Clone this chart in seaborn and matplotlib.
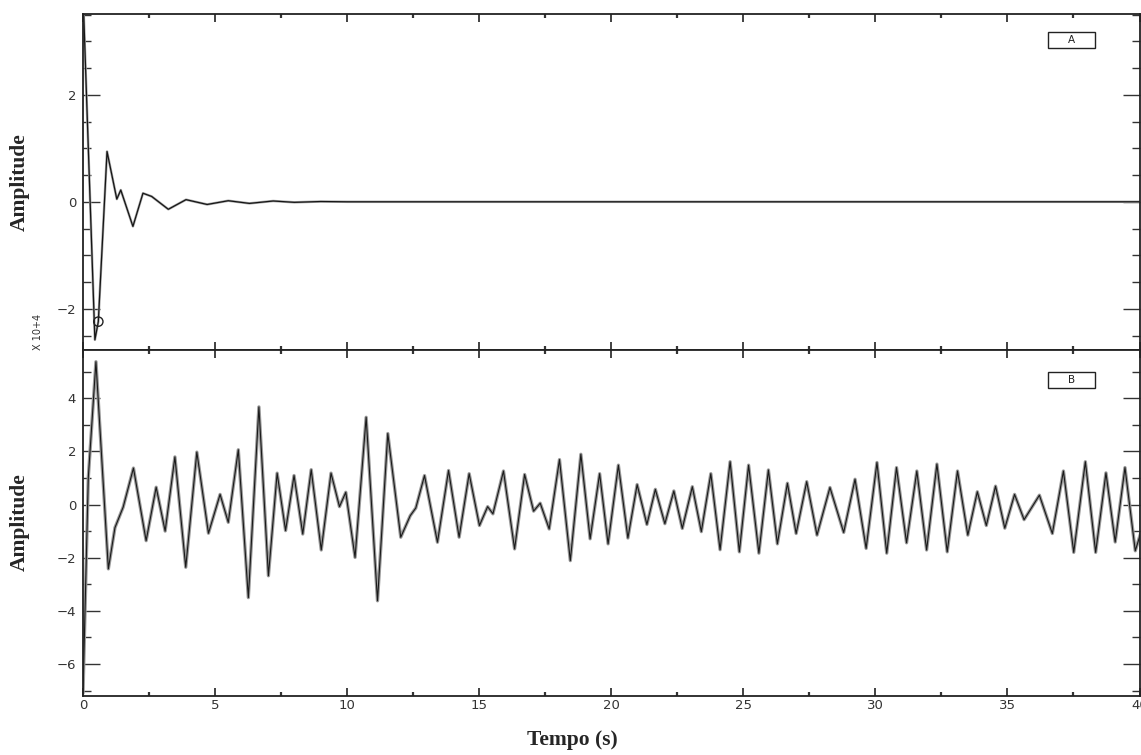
import matplotlib
matplotlib.use("Agg")
import matplotlib.pyplot as plt
import seaborn as sns
from matplotlib.patches import Rectangle
from matplotlib.ticker import MultipleLocator

# ---- Panel A: impulse response (amplitude in units of 1e4) ----
t_a = [0.00, 0.45, 0.58, 0.91, 1.28, 1.43, 1.89, 2.27, 2.60, 3.23, 3.90,
       4.70, 5.50, 6.30, 7.20, 8.00, 9.00, 10.00, 40.00]
amp_a = [3.90, -2.58, -2.24, 0.94, 0.05, 0.22, -0.46, 0.16, 0.10, -0.14, 0.04,
         -0.05, 0.02, -0.03, 0.015, -0.01, 0.005, 0.0, 0.0]
mark_t = [0.58]
mark_amp = [-2.24]

# ---- Panel B: recorded response ----
t_b = [0.00, 0.20, 0.49, 0.96, 1.21, 1.52, 1.91, 2.39, 2.77, 3.11, 3.48, 3.89,
       4.31, 4.75, 5.19, 5.50, 5.88, 6.26, 6.66, 7.02, 7.35, 7.67, 7.99, 8.32,
       8.64, 9.02, 9.39, 9.71, 9.95, 10.30, 10.72, 11.15, 11.54, 12.03, 12.39,
       12.60, 12.93, 13.42, 13.84, 14.24, 14.62, 15.01, 15.32, 15.52, 15.92,
       16.34, 16.72, 17.06, 17.31, 17.65, 18.04, 18.45, 18.85, 19.20, 19.56,
       19.88, 20.27, 20.63, 20.98, 21.35, 21.67, 22.03, 22.37, 22.69, 23.07,
       23.41, 23.77, 24.12, 24.50, 24.85, 25.20, 25.59, 25.95, 26.29, 26.67,
       27.00, 27.40, 27.79, 28.28, 28.80, 29.23, 29.65, 30.06, 30.43, 30.80,
       31.18, 31.57, 31.94, 32.33, 32.72, 33.11, 33.50, 33.86, 34.20, 34.55,
       34.90, 35.27, 35.63, 36.21, 36.70, 37.12, 37.51, 37.95, 38.34, 38.73,
       39.08, 39.45, 39.84, 40.10]
amp_b = [-7.10, 1.00, 5.37, -2.42, -0.87, -0.10, 1.37, -1.36, 0.65, -1.00, 1.79,
         -2.36, 1.97, -1.08, 0.38, -0.67, 2.06, -3.50, 3.67, -2.68, 1.18, -0.98,
         1.09, -1.11, 1.31, -1.71, 1.18, -0.08, 0.46, -1.99, 3.28, -3.62, 2.67,
         -1.23, -0.42, -0.13, 1.09, -1.42, 1.28, -1.23, 1.16, -0.79, -0.08, -0.35,
         1.26, -1.67, 1.13, -0.25, 0.05, -0.92, 1.69, -2.11, 1.89, -1.29, 1.16,
         -1.48, 1.48, -1.26, 0.75, -0.75, 0.57, -0.72, 0.51, -0.90, 0.67, -1.02,
         1.16, -1.70, 1.61, -1.78, 1.48, -1.83, 1.30, -1.48, 0.80, -1.09, 0.86,
         -1.15, 0.64, -1.05, 0.95, -1.65, 1.58, -1.83, 1.39, -1.44, 1.26, -1.71,
         1.52, -1.78, 1.26, -1.15, 0.48, -0.79, 0.69, -0.89, 0.38, -0.57, 0.35,
         -1.09, 1.26, -1.80, 1.61, -1.80, 1.19, -1.41, 1.39, -1.74, -0.90]

x_ticks = [0, 5, 10, 15, 20, 25, 30, 35, 40]
a_yticks = [-2, 0, 2]
b_yticks = [-6, -4, -2, 0, 2, 4]

sns.set_style("ticks")
plt.rcParams["font.family"] = ["DejaVu Sans"]

W, H = 1141, 755
fig = plt.figure(figsize=(W / 100, H / 100), dpi=100)


def rect(x0, y0, x1, y1):
    return [x0 / W, 1 - y1 / H, (x1 - x0) / W, (y1 - y0) / H]


ax_a = fig.add_axes(rect(83, 14, 1139.5, 350))
ax_b = fig.add_axes(rect(83, 350, 1139.5, 696))

line_kw = dict(sort=False, estimator=None, solid_joinstyle="round",
               solid_capstyle="round")

# traces
sns.lineplot(x=t_a, y=amp_a, ax=ax_a, color="#a8a8a8", lw=1.8, **line_kw)
sns.lineplot(x=t_a, y=amp_a, ax=ax_a, color="#151515", lw=0.9, **line_kw)
sns.scatterplot(x=mark_t, y=mark_amp, ax=ax_a, s=45, facecolor="none",
                edgecolor="#222222", linewidth=1.0, zorder=5)

sns.lineplot(x=t_b, y=amp_b, ax=ax_b, color="#9a9a9a", lw=2.4, **line_kw)
sns.lineplot(x=t_b, y=amp_b, ax=ax_b, color="#1a1a1a", lw=0.8, **line_kw)

for ax in (ax_a, ax_b):
    ax.set_xlim(0, 40)
    ax.set_xticks(x_ticks)
    ax.xaxis.set_minor_locator(MultipleLocator(2.5))
    for s in ax.spines.values():
        s.set_visible(True)
        s.set_linewidth(1.3)
        s.set_color("#222222")
    ax.tick_params(which="both", direction="in", top=True, right=True,
                   color="#333333", labelcolor="#333333", labelsize=9.5)
    ax.tick_params(axis="x", which="major", length=6, width=1.3, pad=2)
    ax.tick_params(axis="x", which="minor", length=3, width=1.6)
    ax.tick_params(axis="y", which="major", length=12, width=1.0, pad=5)
    ax.tick_params(axis="y", which="minor", length=6, width=1.0)
    ax.set_xlabel("")
    ax.set_ylabel("")
    ax.grid(False)

ax_a.set_ylim(-2.77, 3.51)
ax_a.set_yticks(a_yticks)
ax_a.yaxis.set_minor_locator(MultipleLocator(0.5))
ax_a.tick_params(labelbottom=False)

ax_b.set_ylim(-7.2, 5.81)
ax_b.set_yticks(b_yticks)
ax_b.yaxis.set_minor_locator(MultipleLocator(1))

# panel tags
for ax, tag, y0 in ((ax_a, "A", 0.899), (ax_b, "B", 0.890)):
    ax.add_patch(Rectangle((0.913, y0), 0.0445, 0.047, transform=ax.transAxes,
                           fill=False, lw=1.0, ec="#222222", zorder=6))
    ax.text(0.913 + 0.0445 / 2, y0 + 0.047 / 2, tag, transform=ax.transAxes,
            ha="center", va="center", fontsize=7.5, color="#222222")

# axis titles
serif = ["Liberation Serif", "DejaVu Serif"]
fig.text(20 / W, 1 - 182 / H, "Amplitude", rotation=90, ha="center",
         va="center", fontsize=15.5, fontweight="bold", family=serif)
fig.text(20 / W, 1 - 522 / H, "Amplitude", rotation=90, ha="center",
         va="center", fontsize=15.5, fontweight="bold", family=serif)
fig.text(572 / W, 1 - 740 / H, "Tempo (s)", ha="center", va="center",
         fontsize=15.5, fontweight="bold", family=serif)
fig.text(38 / W, 1 - 332 / H, "X 10+4", rotation=90, ha="center",
         va="center", fontsize=7, color="#333333")

fig.savefig("out.png", dpi=100, facecolor="white")
